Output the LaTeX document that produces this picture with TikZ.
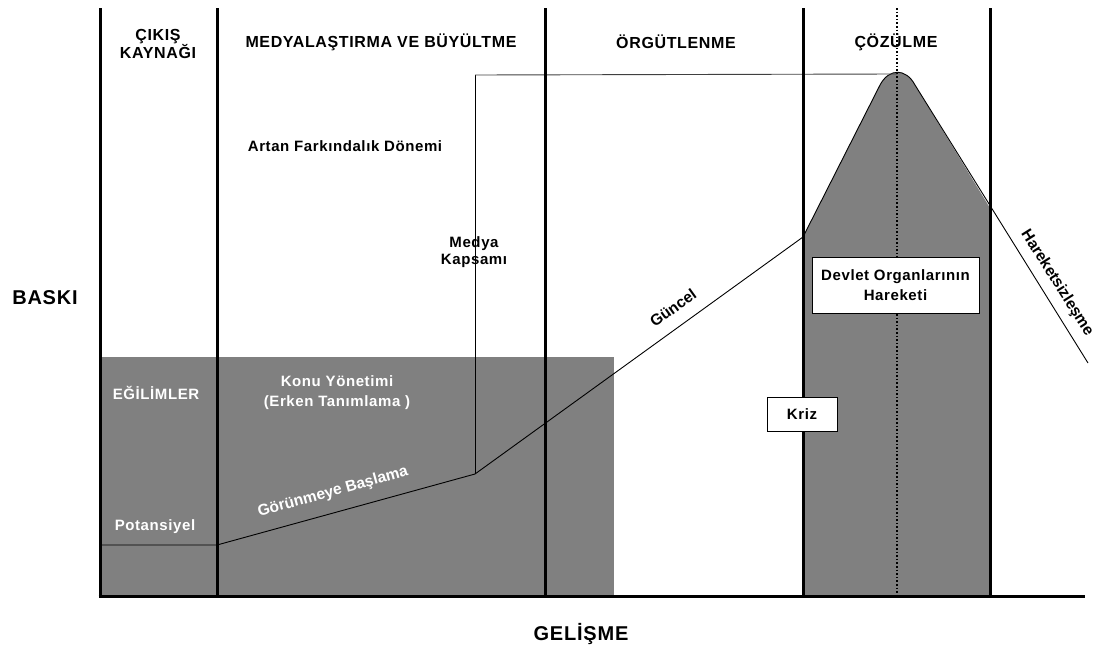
\documentclass[tikz,border=0pt]{standalone}
\usepackage{fontspec}
\setmainfont{Liberation Sans}
\newfontfamily\lblfont[LetterSpace=4]{Liberation Sans}
\definecolor{stagegray}{HTML}{808080}
\begin{document}
\begin{tikzpicture}[x=1pt,y=-1pt,
  divider/.style={line width=3pt},
  thinline/.style={line width=0.9pt},
  lbl/.style={font=\lblfont\bfseries\fontsize{15}{20}\selectfont, align=center, inner sep=0pt},
  headlbl/.style={font=\lblfont\bfseries\fontsize{16}{15.5}\selectfont, align=center, inner sep=0pt},
  biglbl/.style={font=\lblfont\bfseries\fontsize{20}{22}\selectfont, inner sep=0pt},
  slopelbl/.style={font=\bfseries\fontsize{15.6}{18}\selectfont, inner sep=0pt},
  wlbl/.style={lbl, text=white},
  boxlbl/.style={lbl, draw, fill=white, thinline, inner sep=0pt}
]
\useasboundingbox (0,0) rectangle (1100,648);

% shaded early-stage block
\fill[stagegray] (100,357) rectangle (614,596);

% resolution peak
\coordinate (pk0) at (803,596);
\coordinate (pkL) at (803,237);
\coordinate (pkLs) at (880,85);
\coordinate (pkT) at (897,74);
\coordinate (pkRs) at (915,85);
\coordinate (pkR) at (990,208);
\coordinate (pk1) at (990,596);
\coordinate (pkEnd) at (1088,363);
\fill[stagegray] (pk0) -- (pkL) -- (pkLs) .. controls (889,68) and (906,68) .. (pkRs) -- (pkR) -- (pk1) -- cycle;
\draw[thinline] (pkL) -- (pkLs) .. controls (889,68) and (906,68) .. (pkRs) -- (pkEnd);

% peak axis
\coordinate (dotTop) at (897,8);
\coordinate (dotBot) at (897,596);
\draw[line width=1.6pt, dotted] (dotTop) -- (dotBot);

% pressure curve
\coordinate (potA) at (100,545);
\coordinate (potB) at (217,545);
\coordinate (knee) at (475,474);
\coordinate (medTop) at (475,75);
\draw[thinline] (potA) -- (potB) -- (knee) -- (pkL);
\draw[thinline] (knee) -- (medTop);
\draw[thinline, black!75] (medTop) -- (pkT);

% stage dividers and axes
\foreach \x in {100,217,545,803,990}
  \draw[divider] (\x,8) -- (\x,597.5);
\coordinate (axL) at (98.5,596);
\coordinate (axR) at (1085,596);
\draw[divider] (axL) -- (axR);

% stage headings
\node[headlbl] (h1) at (158,44) {ÇIKIŞ\\KAYNAĞI};
\node[headlbl] (h2) at (381,42) {MEDYALAŞTIRMA VE BÜYÜLTME};
\node[headlbl] (h3) at (676,42) {ÖRGÜTLENME};
\node[headlbl] (h4) at (896,42) {ÇÖZÜLME};

% axis titles
\node[biglbl] (yax) at (45,298) {BASKI};
\node[biglbl] (xax) at (581,634) {GELİŞME};

% labels
\node[lbl] (artan) at (345,146) {Artan Farkındalık Dönemi};
\node[lbl, font=\lblfont\bfseries\fontsize{15}{17.5}\selectfont] (medya) at (474,252) {Medya\\Kapsamı};
\node[wlbl] (egil) at (156,393) {EĞİLİMLER};
\node[wlbl] (konu) at (337,393) {Konu Yönetimi\\(Erken Tanımlama )};
\node[wlbl] (pot) at (155,527) {Potansiyel};

% labels running along the curve
\node[slopelbl, text=white, rotate=15.4] (gor) at (333,492) {Görünmeye Başlama};
\node[slopelbl, rotate=35.7] (gun) at (673,308) {Güncel};
\node[slopelbl, rotate=-57.7] (hrk) at (1057,283) {Hareketsizleşme};

% boxed labels
\node[boxlbl, minimum width=167pt, minimum height=56pt] (devlet) at (895.5,285) {Devlet Organlarının\\Hareketi};
\node[boxlbl, minimum width=70pt, minimum height=34pt] (kriz) at (802,414) {Kriz};
\end{tikzpicture}
\end{document}
